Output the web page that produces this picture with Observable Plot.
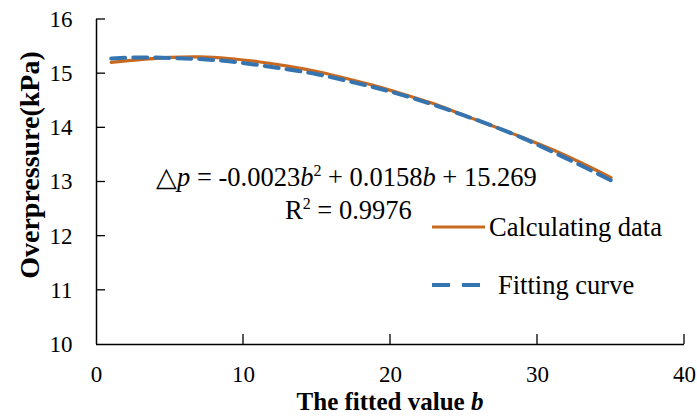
<!DOCTYPE html>
<html><head><meta charset="utf-8">
<script src="https://cdn.jsdelivr.net/npm/d3@7"></script>
<script src="https://cdn.jsdelivr.net/npm/@observablehq/plot@0.6"></script>
<style>
body{margin:0;background:#fff;}
svg text{font-family:"Liberation Serif","Times New Roman",serif !important;}
</style></head>
<body><div id="chart"></div>
<script>
// Calculating data (orange)
const calcB = [1, 3, 5, 7, 9, 11, 13, 15, 17, 19, 21, 23, 25, 27, 29, 31, 33, 35];
const calcP = [15.21, 15.26, 15.3, 15.31, 15.28, 15.22, 15.14, 15.04, 14.91, 14.77, 14.61, 14.44, 14.23, 14.03, 13.82, 13.6, 13.35, 13.08];
// Fitting curve (blue dashed)
const fitB = [1, 3, 5, 7, 9, 11, 13, 15, 17, 19, 21, 23, 25, 27, 29, 31, 33, 35];
const fitP = [15.28, 15.3, 15.29, 15.27, 15.23, 15.16, 15.08, 14.99, 14.87, 14.74, 14.59, 14.42, 14.23, 14.03, 13.81, 13.56, 13.3, 13.03];
const xTicks = [0, 10, 20, 30, 40];
const yTicks = [10, 11, 12, 13, 14, 15, 16];
const seriesNames = ["Calculating data", "Fitting curve"];
const colors = ["#C8691F", "#3674B0"];

const calc = calcB.map((b, i) => ({b, p: calcP[i]}));
const fit = fitB.map((b, i) => ({b, p: fitP[i]}));

const serif = "Liberation Serif, Times New Roman, serif";
const plot = Plot.plot({
  width: 697, height: 417,
  marginLeft: 96, marginRight: 13, marginTop: 19, marginBottom: 73,
  style: {fontFamily: serif, fontSize: "23px", color: "#000", background: "#fff"},
  x: {domain: [0, 40], label: null},
  y: {domain: [10, 16], label: null},
  marks: [
    Plot.axisX({ticks: xTicks, tickFormat: "d", tickSize: 0, tickPadding: 21, fontSize: 23}),
    Plot.axisY({ticks: yTicks, tickFormat: "d", tickSize: 0, tickPadding: 24, fontSize: 23}),
    Plot.ruleY([10], {stroke: "#000", strokeWidth: 1.5}),
    Plot.ruleX([0], {stroke: "#000", strokeWidth: 1.5}),
    Plot.line(calc, {x: "b", y: "p", stroke: colors[0], strokeWidth: 3.2, curve: "catmull-rom"}),
    Plot.line(fit, {x: "b", y: "p", stroke: colors[1], strokeWidth: 4, strokeDasharray: "14,8", curve: "catmull-rom"})
  ]
});
document.getElementById("chart").appendChild(plot);

const svg = d3.select(plot);
const xs = plot.scale("x"), ys = plot.scale("y");
const x0 = xs.apply(0), y0 = ys.apply(10);
// inside tick marks
yTicks.slice(1).forEach(t => {
  svg.append("line").attr("x1", x0).attr("x2", x0 + 9).attr("y1", ys.apply(t)).attr("y2", ys.apply(t))
    .attr("stroke", "#000").attr("stroke-width", 1.3);
});
xTicks.slice(1).forEach(t => {
  svg.append("line").attr("x1", xs.apply(t)).attr("x2", xs.apply(t)).attr("y1", y0).attr("y2", y0 - 10)
    .attr("stroke", "#000").attr("stroke-width", 1.3);
});
// axis titles
svg.append("text").attr("x", (x0 + xs.apply(40)) / 2).attr("y", 410).attr("text-anchor", "middle")
  .attr("font-family", serif).attr("font-weight", "bold").attr("font-size", 25)
  .call(t => { t.append("tspan").text("The fitted value "); t.append("tspan").attr("font-style", "italic").text("b"); });
svg.append("text").attr("transform", `translate(39,165) rotate(-90)`).attr("text-anchor", "middle")
  .attr("font-family", serif).attr("font-weight", "bold").attr("font-size", 28).text("Overpressure(kPa)");
// equation
const eq = svg.append("text").attr("x", 156).attr("y", 186).attr("font-size", 26.5).attr("font-family", serif).attr("text-anchor", "start");
eq.append("tspan").text("△");
eq.append("tspan").attr("font-style", "italic").text("p");
eq.append("tspan").text(" = -0.0023");
eq.append("tspan").attr("font-style", "italic").text("b");
eq.append("tspan").attr("font-size", 16).attr("dy", -10).text("2");
eq.append("tspan").attr("dy", 10).text(" + 0.0158");
eq.append("tspan").attr("font-style", "italic").text("b");
eq.append("tspan").text(" + 15.269");
const r2 = svg.append("text").attr("x", 285).attr("y", 219).attr("font-size", 26.5).attr("font-family", serif).attr("text-anchor", "start");
r2.append("tspan").text("R");
r2.append("tspan").attr("font-size", 16).attr("dy", -10).text("2");
r2.append("tspan").attr("dy", 10).text(" = 0.9976");
// legend
const lg = [{y: 227, tx: 489}, {y: 285, tx: 498}];
lg.forEach((l, i) => {
  svg.append("line").attr("x1", 432).attr("x2", i ? 480 : 485).attr("y1", l.y).attr("y2", l.y)
    .attr("stroke", colors[i]).attr("stroke-width", i ? 4 : 3.2).attr("stroke-dasharray", i ? "18,12" : null);
  svg.append("text").attr("x", l.tx).attr("y", l.y + 9).attr("font-size", 26.5).attr("font-family", serif)
    .attr("text-anchor", "start").text(seriesNames[i]);
});
</script></body></html>
